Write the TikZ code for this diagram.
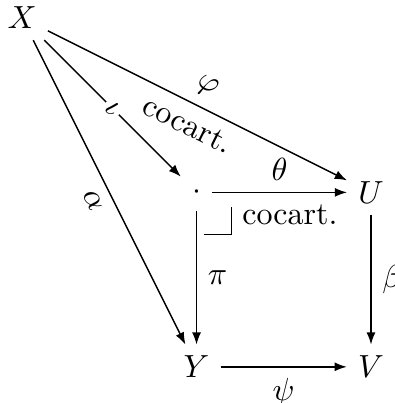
\documentclass[tikz,border=0pt]{standalone}
\usetikzlibrary{positioning, calc, arrows.meta}
\tikzset{
    obj/.style={inner sep=3.33pt},
    line/.style={-{Latex[length=3.8pt,width=2.8pt]}, line width=0.45pt}
}
\begin{document}
\begin{tikzpicture}[
    node distance=54.5pt, on grid,
    desc/.style={fill=white, inner sep=1pt, sloped}
    ]
    \useasboundingbox (-6.9pt,5.6pt) rectangle (116.25pt,-120.3pt);

    % --- objects ---
    \node[obj] (X) at (0,0) {$X$};
    \node[obj, below right=54.5pt and 54.5pt of X] (P) {$\cdot$};
    \node[obj, right=of P] (U) {$U$};
    \node[obj, below=of P] (Y) {$Y$};
    \node[obj, right=of Y] (V) {$V$};

    % --- arrows ---
    \draw[line] (X) -- node[desc] {$\iota$} (P);
    \draw[line] (X) -- node[above, sloped] {$\varphi$} node[below, sloped] {cocart.} (U);
    \draw[line] (X) -- node[below, sloped] {$\alpha$} (Y);
    \draw[line] (P) -- node[above] {$\theta$} (U);
    \draw[line] (P) -- node[right] {$\pi$} (Y);
    \draw[line] (U) -- node[right] {$\beta$} (V);
    \draw[line] (Y) -- node[below] {$\psi$} (V);

    % --- pushout corner ---
    \draw ($(P)+(2.2pt,-13.1pt)$) -| ($(P)+(10.9pt,-4.7pt)$);
    \node[anchor=base west, inner sep=0pt] (cc) at ($(P)+(14.1pt,-10pt)$) {cocart.};
\end{tikzpicture}
\end{document}
